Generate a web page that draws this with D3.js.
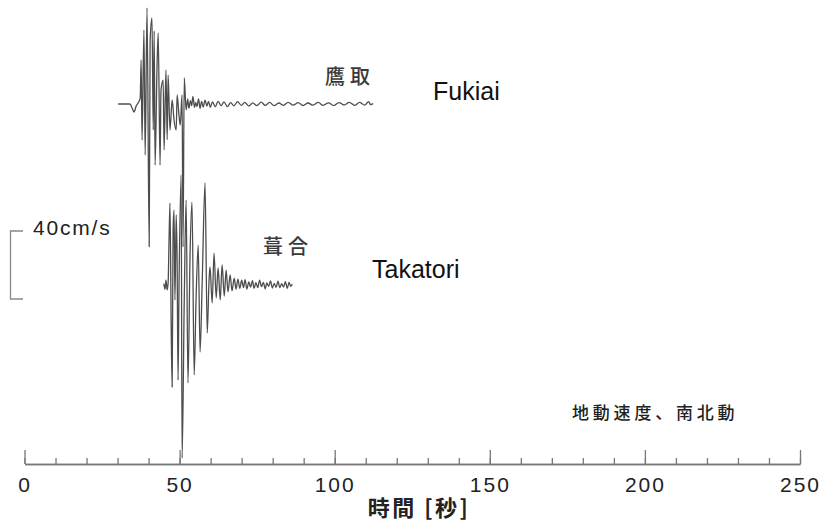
<!DOCTYPE html>
<html>
<head>
<meta charset="utf-8">
<script src="https://cdn.jsdelivr.net/npm/d3@7"></script>
<style>
  html, body { margin: 0; padding: 0; background: #fff; }
  svg { display: block; }
  .lat { font-family: "Liberation Sans", Arial, sans-serif; }
  .jp { font-family: "Noto Sans CJK JP", sans-serif; }
</style>
</head>
<body>
<script>
// Ground velocity, N-S component: [time (s), velocity (cm/s)]
const takatoriTrace = [
  [30.2,0],[34.0,0],[34.7,-2.4],[35.3,-4.7],[36.0,-1.2],[36.6,0.6],[37.3,3.5],
  [37.6,25.9],[37.9,-21.2],[38.5,43.5],[38.9,-30],[39.5,56.5],[40.2,-84],
  [40.5,37.6],[41.1,50.6],[41.5,-15.3],[41.8,43],[42.1,-35.9],[42.7,20],
  [43.1,41.8],[43.7,-35.9],[44.0,8.2],[44.7,14.1],[45.0,-27],[45.6,20],
  [46.0,-21],[46.3,17],[46.9,-15.3],[47.6,2.4],[48.2,-9.4],[48.9,-15.3],
  [49.2,5.3],[49.8,-6.5],[50.2,-12.4],[50.8,5.3],[51.1,-84],[51.5,15.3],
  [52.1,-3.5],[52.6,3],[53.0,-2.5],[53.5,2],[53.9,-1],[54.3,4.5],[54.8,-2],
  [55.2,1],[55.6,-1.5],[56.1,3],[56.6,-2.5],[57.1,1.5],[57.6,-1.8],[58.2,2.2],
  [58.8,-1.2],[59.3,1.6],[59.9,-1.9],[60.6,1.2],[61.5,-1.5],[62.4,1.6],
  [63.4,-1.0],[64.3,1.3],[65.4,-1.5],[66.5,0.8],[67.5,-1.1],[68.7,1.4],
  [69.9,-0.8],[71.0,1.0],[72.3,-1.2],[73.6,0.7],[74.9,-0.9],[76.3,1.1],
  [77.6,-0.8],[79.0,0.9],[80.5,-1.0],[82.0,0.6],[83.5,-0.8],[85.0,1.0],
  [86.6,-0.7],[88.2,0.8],[89.8,-0.9],[91.4,0.6],[93.0,-0.7],[94.7,0.9],
  [96.3,-0.8],[98.0,0.7],[99.7,-0.9],[101.4,0.8],[103.0,-0.6],[104.7,1.0],
  [106.4,-0.8],[108.0,0.9],[109.7,-0.7],[110.9,1.4],[111.6,-0.4],[112.4,0.3]
];

const fukiaiTrace = [
  [44.9,0.8],[45.3,-2.5],[45.6,2.9],[46.0,-2.9],[46.3,1.2],[46.6,26.5],
  [46.9,48.2],[47.3,-26.5],[47.6,-60],[47.9,32.4],[48.2,44.1],[48.5,-8.8],
  [48.9,41.2],[49.2,14.7],[49.5,-55.9],[49.8,-2.9],[50.5,64.7],[50.8,-101.8],
  [51.5,-8.8],[52.1,50],[52.7,-57.6],[53.4,20.6],[54.0,48.8],[54.7,-52.9],
  [55.3,-8.8],[56.0,23.5],[56.6,-39.4],[57.3,2.9],[58.2,60],[58.9,-28.2],
  [59.5,2.9],[59.8,10.6],[60.5,-10.6],[61.1,18.8],[61.8,-7.6],[62.4,10],
  [63.1,-8.8],[63.7,11.8],[64.4,-6.5],[65.0,8.8],[65.6,-4.1],[66.3,5.9],
  [66.9,-3.5],[67.6,4.1],[68.2,-2.4],[68.8,3.5],[69.4,-2.0],[70.0,2.8],
  [70.6,-1.5],[71.1,3.2],[71.7,-2.4],[72.3,1.8],[72.9,-1.2],[73.5,2.6],
  [74.0,-2.0],[74.6,1.4],[75.2,-1.6],[75.8,2.9],[76.4,-1.0],[77.0,1.6],
  [77.6,-2.2],[78.1,1.2],[78.7,-0.8],[79.3,2.4],[79.9,-1.8],[80.5,1.0],
  [81.1,-1.4],[81.7,2.2],[82.3,-1.6],[82.9,0.8],[83.5,-1.2],[84.1,2.0],
  [84.7,-2.0],[85.3,1.5],[85.8,-0.8],[86.3,0.5]
];

const timeTicks = [0, 50, 100, 150, 200, 250];
const timeMinorTicks = d3.range(0, 251, 10);
const scaleBarValue = 40; // cm/s

const W = 823, H = 521;
const svg = d3.select("body").append("svg").attr("width", W).attr("height", H);
svg.append("rect").attr("width", W).attr("height", H).attr("fill", "#fff");

const x = d3.scaleLinear().domain([0, 250]).range([24.5, 800]);
// velocity -> vertical pixel offset (positive up)
const amp = d3.scaleLinear().domain([0, 40]).range([0, 68]);

const baselineTop = 104, baselineBottom = 285;

function traceLine(base) {
  return d3.line().x(d => x(d[0])).y(d => base - amp(d[1])).curve(d3.curveMonotoneX);
}

const traceColor = "#4d4d4d";
svg.append("path").datum(takatoriTrace)
  .attr("d", traceLine(baselineTop)).attr("fill", "none")
  .attr("stroke", traceColor).attr("stroke-width", 1.3).attr("stroke-linejoin", "round");
svg.append("path").datum(fukiaiTrace)
  .attr("d", traceLine(baselineBottom)).attr("fill", "none")
  .attr("stroke", traceColor).attr("stroke-width", 1.3).attr("stroke-linejoin", "round");

// Station labels
svg.append("text").attr("class", "jp").attr("x", 325).attr("y", 84)
  .attr("font-size", 20).attr("letter-spacing", 5).attr("fill", "#3a3a3a").attr("font-weight", 500)
  .text("鷹取");
svg.append("text").attr("class", "lat").attr("x", 433).attr("y", 100)
  .attr("font-size", 25).attr("fill", "#111").text("Fukiai");
svg.append("text").attr("class", "jp").attr("x", 263).attr("y", 254)
  .attr("font-size", 20).attr("letter-spacing", 5).attr("fill", "#3a3a3a").attr("font-weight", 500)
  .text("葺合");
svg.append("text").attr("class", "lat").attr("x", 372).attr("y", 278)
  .attr("font-size", 25).attr("fill", "#111").text("Takatori");

// Amplitude scale bar
const barTop = 231;
const barPath = d3.path();
barPath.moveTo(23, barTop);
barPath.lineTo(10.5, barTop);
barPath.lineTo(10.5, barTop + amp(scaleBarValue));
barPath.lineTo(23, barTop + amp(scaleBarValue));
svg.append("path").attr("d", barPath.toString()).attr("fill", "none")
  .attr("stroke", "#888").attr("stroke-width", 1.3);
svg.append("text").attr("class", "lat").attr("x", 33).attr("y", 235)
  .attr("font-size", 21).attr("letter-spacing", 1.8).attr("fill", "#222")
  .text(scaleBarValue + "cm/s");

svg.append("text").attr("class", "jp").attr("x", 572).attr("y", 419)
  .attr("font-size", 17).attr("letter-spacing", 3.8).attr("fill", "#222").attr("font-weight", 500)
  .text("地動速度、南北動");

// Time axis
const axisY = 464;
const minorAxis = d3.axisBottom(x).tickValues(timeMinorTicks).tickSizeInner(-6).tickSizeOuter(0).tickFormat("");
const majorAxis = d3.axisBottom(x).tickValues(timeTicks).tickSizeInner(-14).tickSizeOuter(0).tickPadding(13);

const gMinor = svg.append("g").attr("transform", `translate(0,${axisY})`).call(minorAxis);
const gMajor = svg.append("g").attr("transform", `translate(0,${axisY})`).call(majorAxis);
[gMinor, gMajor].forEach(g => {
  g.selectAll("path.domain").attr("stroke", "#777").attr("stroke-width", 1.4);
  g.selectAll(".tick line").attr("stroke", "#777").attr("stroke-width", 1.3);
});
gMajor.selectAll(".tick text")
  .attr("font-size", 21).attr("letter-spacing", 2).attr("fill", "#222")
  .attr("font-family", "'Liberation Sans', Arial, sans-serif");

svg.append("text").attr("class", "jp").attr("x", 419).attr("y", 516)
  .attr("text-anchor", "middle").attr("font-size", 22).attr("letter-spacing", 2.5)
  .attr("font-weight", 600).attr("fill", "#222").text("時間 [秒]");
</script>
</body>
</html>
